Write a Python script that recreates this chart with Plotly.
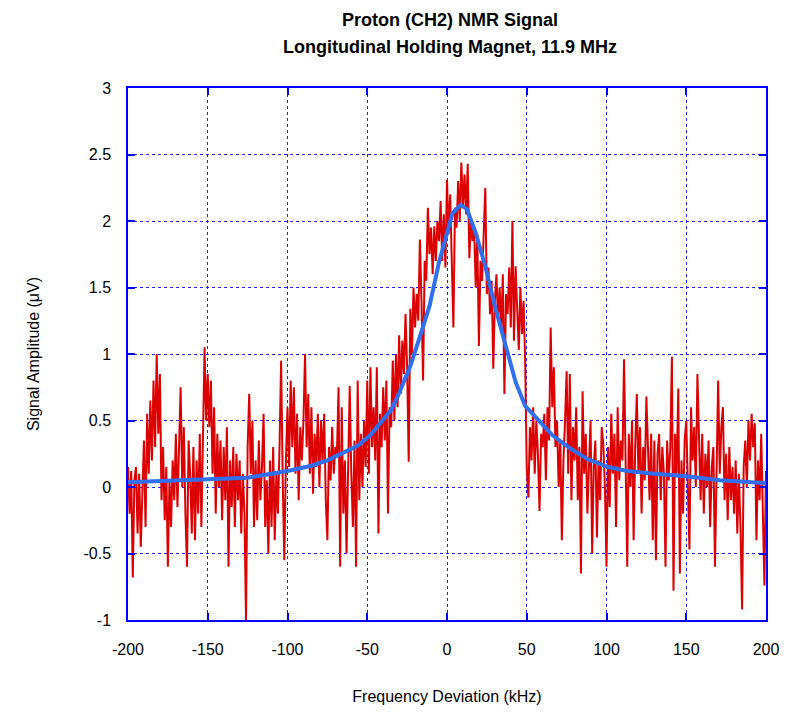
import plotly.graph_objects as go

# Frequency deviation (kHz) for the measured signal, 1 kHz steps
freq_start = -200
signal = [
    # -200 .. -191
    0.15, -0.2, 0.12, -0.68, 0.05, 0.15, -0.35, 0.1, -0.45, -0.1,
    # -190 .. -181
    0.35, -0.3, 0.55, 0.1, 0.65, 0.2, 0.8, 0.3, 1.0, 0.4,
    # -180 .. -171
    0.85, -0.1, 0.3, -0.25, 0.15, -0.6, 0.05, -0.3, 0.2, -0.1,
    # -170 .. -161
    0.4, -0.15, 0.3, 0.75, 0.0, 0.45, -0.2, -0.6, 0.35, 0.1,
    # -160 .. -151
    -0.35, 0.3, -0.4, 0.2, -0.2, 0.4, -0.3, 0.25, 1.05, 0.5,
    # -150 .. -141
    0.85, 0.45, 0.8, 0.1, 0.6, -0.2, 0.4, 0.0, 0.35, -0.25,
    # -140 .. -131
    0.3, -0.1, 0.45, -0.6, 0.2, -0.15, 0.3, -0.3, 0.25, -0.1,
    # -130 .. -121
    0.2, -0.35, 0.1, -0.2, -1.0, 0.3, 0.7, 0.1, 0.5, -0.3,
    # -120 .. -111
    0.2, -0.25, 0.35, -0.1, 0.15, 0.55, -0.3, 0.05, -0.5, 0.2,
    # -110 .. -101
    -0.3, 0.3, -0.4, 0.1, -0.2, 0.3, 0.95, 0.05, -0.55, 0.2,
    # -100 .. -91
    0.6, 0.15, 0.8, 0.3, 0.75, 0.1, 0.55, -0.1, 0.45, 0.2,
    # -90 .. -81
    0.5, 1.0, 0.3, 0.7, 0.1, 0.6, -0.05, 0.4, 0.15, 0.55,
    # -80 .. -71
    0.0, 0.5, 0.2, 0.55, -0.1, -0.4, 0.3, 0.05, 0.45, 0.1,
    # -70 .. -61
    0.3, 0.25, 0.75, -0.6, 0.6, -0.2, 0.2, -0.5, 0.3, 0.76,
    # -60 .. -51
    0.1, -0.3, 0.35, -0.6, 0.8, -0.1, 0.4, 0.0, 0.5, 0.15,
    # -50 .. -41
    0.8, 0.1, 0.9, 0.3, 0.6, 0.2, 0.9, -0.35, 0.55, 0.3,
    # -40 .. -31
    0.75, 0.35, 0.8, -0.2, 0.6, 0.45, 0.95, 0.5, 1.0, 0.6,
    # -30 .. -21
    1.14, 0.7, 1.1, 0.85, 1.3, 0.9, 0.19, 1.34, 1.0, 1.5,
    # -20 .. -11
    1.2, 1.45, 1.25, 1.86, 1.4, 0.8, 1.7, 1.55, 2.1, 1.75,
    # -10 .. -1
    1.95, 1.6, 1.96, 1.7, 2.0, 1.85, 2.15, 1.7, 2.05, 1.65,
    # 0 .. 9
    2.31, 1.9, 2.2, 1.75, 1.2, 2.1, 1.95, 2.3, 2.0, 2.44,
    # 10 .. 19
    2.1, 2.35, 2.05, 2.43, 1.72, 2.0, 1.85, 1.95, 1.5, 1.9,
    # 20 .. 29
    1.06, 1.7, 1.55, 1.9, 2.25, 1.45, 1.65, 1.3, 1.55, 0.89,
    # 30 .. 39
    1.4, 1.6, 1.25, 1.5, 1.2, 1.6, 0.7, 1.45, 1.3, 1.65,
    # 40 .. 49
    1.2, 2.0, 1.1, 1.66, 1.3, 1.03, 1.5, 1.15, 1.4, 0.95,
    # 50 .. 59
    0.14, -0.08, 0.45, 0.2, 0.6, 0.1, 0.5, 0.25, -0.18, 0.4,
    # 60 .. 69
    0.3, 0.55, 0.05, 0.6, 0.35, 1.2, 0.6, 0.9, 0.3, 0.5,
    # 70 .. 79
    0.0, 0.35, -0.4, 0.2, 0.5, 0.87, 0.1, 0.85, -0.1, 0.45,
    # 80 .. 89
    0.2, 0.6, -0.1, 0.3, -0.65, 0.72, 0.1, 0.4, -0.2, 0.25,
    # 90 .. 99
    0.5, -0.5, 0.15, 0.35, -0.38, 0.2, -0.1, 0.45, 0.32, 0.0,
    # 100 .. 109
    -0.6, 0.3, -0.15, 0.55, 0.1, 0.4, -0.3, 0.6, 0.05, 0.35,
    # 110 .. 119
    0.2, 0.96, 0.1, -0.6, 0.4, 0.0, 0.5, -0.4, 0.3, 0.7,
    # 120 .. 129
    0.1, 0.45, -0.2, 0.3, 0.05, 0.68, 0.3, -0.1, 0.4, -0.4,
    # 130 .. 139
    0.35, -0.55, 0.25, 0.4, -0.1, 0.3, 0.1, -0.6, 0.35, 0.05,
    # 140 .. 149
    0.3, 0.98, -0.78, 0.4, 0.1, 0.74, -0.65, 0.2, -0.2, 0.35,
    # 150 .. 159
    0.5, 0.1, -0.47, 0.6, 0.2, 0.45, 0.0, 0.85, 0.3, -0.1,
    # 160 .. 169
    0.4, -0.2, 0.25, 0.0, 0.35, -0.3, 0.15, 0.3, -0.6, 0.2,
    # 170 .. 179
    0.8, 0.1, 0.45, 0.6, -0.1, 0.25, -0.25, 0.3, -0.1, 0.15,
    # 180 .. 189
    -0.2, 0.2, -0.35, 0.1, -0.3, -0.92, 0.15, 0.35, 0.0, 0.5,
    # 190 .. 200
    0.2, 0.55, 0.3, 0.48, -0.4, 0.2, -0.1, 0.4, -0.2, -0.74, 0.12,
]
freq = [freq_start + i for i in range(len(signal))]

# Fitted curve
fit_freq = [-200, -175, -150, -125, -100, -85, -75, -66, -60, -56, -48, -40, -35,
            -31, -27, -23, -17, -11, -5, 0, 3.5, 8.5, 12.5, 18, 24, 30, 37, 43,
            49, 58, 66, 76, 88, 101, 113, 130, 150, 171, 200]
fit_amp = [0.035, 0.045, 0.055, 0.07, 0.12, 0.16, 0.2, 0.25, 0.28, 0.31, 0.39, 0.5, 0.58,
           0.68, 0.79, 0.91, 1.13, 1.36, 1.69, 1.91, 2.06, 2.12, 2.09, 1.91, 1.66, 1.36, 1.04, 0.79,
           0.61, 0.49, 0.39, 0.3, 0.21, 0.15, 0.12, 0.1, 0.08, 0.05, 0.03]

x_ticks = [-200, -150, -100, -50, 0, 50, 100, 150, 200]
y_ticks = [-1, -0.5, 0, 0.5, 1, 1.5, 2, 2.5, 3]

title_lines = ["Proton (CH2) NMR Signal", "Longitudinal Holding Magnet, 11.9 MHz"]

FRAME = "#0000ff"
GRID = "#2020ff"
font_family = "Liberation Sans, Arial, sans-serif"

fig = go.Figure()
fig.add_trace(go.Scatter(x=freq, y=signal, mode="lines",
                         line=dict(color="#dd0000", width=2.0), showlegend=False))
fig.add_trace(go.Scatter(x=fit_freq, y=fit_amp, mode="lines",
                         line=dict(color="#2f6ff0", width=4), showlegend=False))

axis_common = dict(
    showline=True, linecolor=FRAME, linewidth=1.5, mirror="ticks",
    ticks="inside", ticklen=7, tickcolor=FRAME, tickwidth=1.5,
    showgrid=True, gridcolor=GRID, griddash="dot", gridwidth=1,
    zeroline=False, tickfont=dict(family=font_family, size=16, color="#000"),
)

fig.update_layout(
    width=791, height=715,
    margin=dict(l=128, r=22, t=88, b=93),
    paper_bgcolor="white", plot_bgcolor="white",
    xaxis=dict(range=[-200, 200], tickvals=x_ticks,
               ticktext=[str(v) for v in x_ticks],
               ticklabelstandoff=14,
               title=dict(text="Frequency Deviation (kHz)", standoff=34,
                          font=dict(family=font_family, size=16, color="#000")),
               **axis_common),
    yaxis=dict(range=[-1, 3], tickvals=y_ticks,
               ticktext=[("%g" % v) for v in y_ticks],
               ticklabelstandoff=12,
               title=dict(text="Signal Amplitude (μV)", standoff=40,
                          font=dict(family=font_family, size=16, color="#000")),
               **axis_common),
)

# Two-line bold title, placed as annotations above the plot area
for i, line in enumerate(title_lines):
    center_px = 20 + 27 * i  # vertical centre of each line in page pixels
    fig.add_annotation(
        text="<b>%s</b>" % line, showarrow=False,
        xref="paper", x=(452 - 128) / 641, xanchor="center",
        yref="paper", y=1 + (88 - center_px) / 534, yanchor="middle",
        font=dict(family=font_family, size=18, color="#000"),
    )

fig.write_html("out.html")
